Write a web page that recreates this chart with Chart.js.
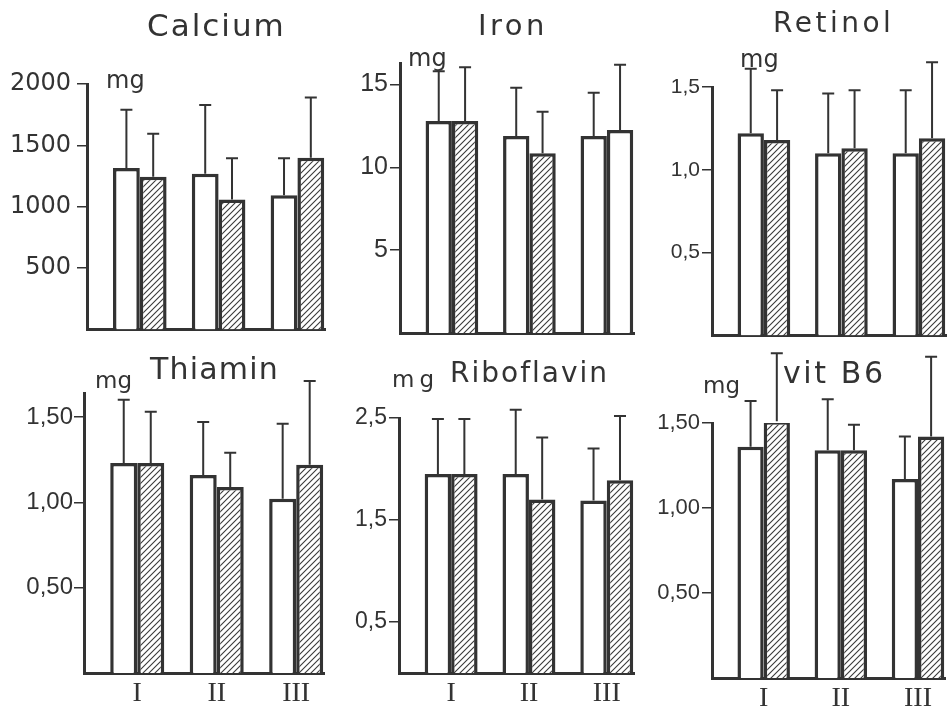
<!DOCTYPE html>
<html>
<head>
<meta charset="utf-8">
<script src="https://cdn.jsdelivr.net/npm/chart.js@4.4.1/dist/chart.umd.min.js"></script>
<style>
  html, body { margin: 0; padding: 0; background: #fff; }
  #page { position: relative; width: 948px; height: 715px; overflow: hidden; }
  #page canvas { position: absolute; }
  .lbl { position: absolute; font-family: 'DejaVu Sans', sans-serif; color: #333; line-height: 1; white-space: nowrap; z-index: 2; }
</style>
</head>
<body>
<div id="page">
  <div class="lbl" style="left:147px;top:10px;font-size:31px;letter-spacing:2px">Calcium</div>
  <div class="lbl" style="left:478px;top:11px;font-size:29px;letter-spacing:3.5px">Iron</div>
  <div class="lbl" style="left:773px;top:9px;font-size:28px;letter-spacing:3.5px">Retinol</div>
  <div class="lbl" style="left:150px;top:354px;font-size:30px;letter-spacing:1.2px">Thiamin</div>
  <div class="lbl" style="left:450px;top:359px;font-size:28px;letter-spacing:2px">Riboflavin</div>
  <div class="lbl" style="left:783px;top:358px;font-size:30px;letter-spacing:2.6px">vit B6</div>

  <div class="lbl" style="left:106px;top:68px;font-size:24px">mg</div>
  <div class="lbl" style="left:408px;top:46px;font-size:24px">mg</div>
  <div class="lbl" style="left:740px;top:47px;font-size:24px">mg</div>
  <div class="lbl" style="left:95px;top:369px;font-size:23px">mg</div>
  <div class="lbl" style="left:392px;top:368px;font-size:23px;letter-spacing:5px">mg</div>
  <div class="lbl" style="left:703px;top:374px;font-size:23px">mg</div>
</div>
<script>
const groups = ['I', 'II', 'III'];

// mean intake per group (open bars) and SD
const calciumOpen = [1315, 1270, 1095];
const calciumOpenSd = [475, 560, 300];
const calciumHatched = [1245, 1060, 1400];
const calciumHatchedSd = [350, 335, 490];
const calciumTicks = [500, 1000, 1500, 2000];
const calciumTickLabels = ['500', '1000', '1500', '2000'];

const ironOpen = [12.8, 11.9, 11.9];
const ironOpenSd = [3.0, 2.9, 2.6];
const ironHatched = [12.8, 10.85, 12.25];
const ironHatchedSd = [3.25, 2.5, 3.95];
const ironTicks = [5, 10, 15];
const ironTickLabels = ['5', '10', '15'];

const retinolOpen = [1.22, 1.10, 1.10];
const retinolOpenSd = [0.39, 0.36, 0.38];
const retinolHatched = [1.18, 1.13, 1.19];
const retinolHatchedSd = [0.30, 0.35, 0.46];
const retinolTicks = [0.5, 1.0, 1.5];
const retinolTickLabels = ['0,5', '1,0', '1,5'];

const thiaminOpen = [1.23, 1.16, 1.02];
const thiaminOpenSd = [0.37, 0.31, 0.44];
const thiaminHatched = [1.23, 1.09, 1.22];
const thiaminHatchedSd = [0.30, 0.20, 0.49];
const thiaminTicks = [0.5, 1.0, 1.5];
const thiaminTickLabels = ['0,50', '1,00', '1,50'];

const riboOpen = [1.95, 1.95, 1.69];
const riboOpenSd = [0.54, 0.63, 0.51];
const riboHatched = [1.95, 1.70, 1.89];
const riboHatchedSd = [0.54, 0.61, 0.63];
const riboTicks = [0.5, 1.5, 2.5];
const riboTickLabels = ['0,5', '1,5', '2,5'];

const b6Open = [1.36, 1.34, 1.17];
const b6OpenSd = [0.27, 0.30, 0.25];
const b6Hatched = [1.51, 1.34, 1.42];
const b6HatchedSd = [0.40, 0.15, 0.47];
const b6Ticks = [0.5, 1.0, 1.5];
const b6TickLabels = ['0,50', '1,00', '1,50'];

const INK = '#333';
const SANS = "'Liberation Sans', Arial, sans-serif";
const page = document.getElementById('page');

function makeHatch() {
  const c = document.createElement('canvas');
  c.width = c.height = 6;
  const g = c.getContext('2d');
  g.fillStyle = '#fff';
  g.fillRect(0, 0, 6, 6);
  g.strokeStyle = '#3a3a3a';
  g.lineWidth = 1.1;
  g.beginPath();
  g.moveTo(0, 6); g.lineTo(6, 0);
  g.moveTo(-1, 1); g.lineTo(1, -1);
  g.moveTo(5, 7); g.lineTo(7, 5);
  g.stroke();
  return g.createPattern(c, 'repeat');
}
const hatch = makeHatch();

// SD whiskers on top of every bar
const errorBars = {
  id: 'errorBars',
  afterDatasetsDraw(chart) {
    const ctx = chart.ctx;
    const y = chart.scales.y;
    ctx.save();
    ctx.strokeStyle = INK;
    ctx.lineWidth = 2;
    chart.data.datasets.forEach((ds, i) => {
      chart.getDatasetMeta(i).data.forEach((bar, j) => {
        const top = y.getPixelForValue(ds.data[j].y + ds.sd[j]);
        ctx.beginPath();
        ctx.moveTo(bar.x, bar.y);
        ctx.lineTo(bar.x, top);
        ctx.moveTo(bar.x - 6, top);
        ctx.lineTo(bar.x + 6, top);
        ctx.stroke();
      });
    });
    ctx.restore();
  }
};

const panels = [
  { box: [0, 0, 335, 350], axisX: 87, rightX: 325, topY: 84, baseY: 341, yMax: 2000,
    open: calciumOpen, openSd: calciumOpenSd, hatched: calciumHatched, hatchedSd: calciumHatchedSd,
    ticks: calciumTicks, tickLabels: calciumTickLabels, showGroups: false,
    tickFont: { family: "'DejaVu Sans', sans-serif", size: 24 }, tickPad: 6 },
  { box: [335, 0, 310, 350], axisX: 400, rightX: 634, topY: 63, baseY: 342, yMax: 16.3,
    open: ironOpen, openSd: ironOpenSd, hatched: ironHatched, hatchedSd: ironHatchedSd,
    ticks: ironTicks, tickLabels: ironTickLabels, showGroups: false,
    tickFont: { family: SANS, size: 25 }, tickPad: 2,
    hatchMask: [true, true, false] },
  { box: [645, 0, 303, 350], axisX: 712, rightX: 946, topY: 87, baseY: 342, yMax: 1.5,
    open: retinolOpen, openSd: retinolOpenSd, hatched: retinolHatched, hatchedSd: retinolHatchedSd,
    ticks: retinolTicks, tickLabels: retinolTickLabels, showGroups: false,
    tickFont: { family: SANS, size: 21 }, tickPad: 2 },
  { box: [0, 348, 335, 367], axisX: 84, rightX: 324, topY: 393, baseY: 673, yMax: 1.64,
    open: thiaminOpen, openSd: thiaminOpenSd, hatched: thiaminHatched, hatchedSd: thiaminHatchedSd,
    ticks: thiaminTicks, tickLabels: thiaminTickLabels, showGroups: true,
    tickFont: { family: SANS, size: 24 }, tickPad: 1 },
  { box: [335, 348, 310, 367], axisX: 399, rightX: 634, topY: 418, baseY: 673, yMax: 2.5,
    open: riboOpen, openSd: riboOpenSd, hatched: riboHatched, hatchedSd: riboHatchedSd,
    ticks: riboTicks, tickLabels: riboTickLabels, showGroups: true,
    tickFont: { family: SANS, size: 23 }, tickPad: 2 },
  { box: [645, 348, 303, 367], axisX: 712, rightX: 945, topY: 423, baseY: 678, yMax: 1.5,
    open: b6Open, openSd: b6OpenSd, hatched: b6Hatched, hatchedSd: b6HatchedSd,
    ticks: b6Ticks, tickLabels: b6TickLabels, showGroups: true,
    tickFont: { family: SANS, size: 22 }, tickPad: 2 }
];

const toPoints = vals => vals.map((v, i) => ({ x: i + 1, y: v }));

panels.forEach(p => {
  const [left, top, w, h] = p.box;
  const cv = document.createElement('canvas');
  cv.width = w;
  cv.height = h;
  cv.style.left = left + 'px';
  cv.style.top = top + 'px';
  page.appendChild(cv);

  const xH = p.showGroups ? 36 : 0;
  const mask = p.hatchMask || [true, true, true];

  new Chart(cv, {
    type: 'bar',
    data: {
      datasets: [
        { data: toPoints(p.open), sd: p.openSd, backgroundColor: '#fff' },
        { data: toPoints(p.hatched), sd: p.hatchedSd, backgroundColor: mask.map(m => m ? hatch : '#fff') }
      ]
    },
    options: {
      responsive: false,
      animation: false,
      events: [],
      layout: {
        padding: { left: 0, top: p.topY - top, right: left + w - p.rightX, bottom: top + h - p.baseY - xH }
      },
      datasets: {
        bar: { borderColor: INK, borderWidth: 3.5, categoryPercentage: 0.68, barPercentage: 1 }
      },
      plugins: { legend: { display: false }, tooltip: { enabled: false }, title: { display: false } },
      scales: {
        x: {
          type: 'linear', min: 0.33, max: 3.35, offset: false,
          grid: { display: false, drawTicks: false },
          border: { display: true, color: INK, width: 3 },
          ticks: {
            display: p.showGroups, stepSize: 1, includeBounds: false, padding: 4,
            color: INK, font: { family: "'Liberation Serif', serif", size: 28 },
            callback: v => groups[v - 1]
          },
          afterFit: s => { s.height = xH; }
        },
        y: {
          min: 0, max: p.yMax,
          afterBuildTicks: s => { s.ticks = p.ticks.map(v => ({ value: v })); },
          grid: { drawOnChartArea: false, tickLength: 10, color: INK, lineWidth: 1.5 },
          border: { display: true, color: INK, width: 3 },
          ticks: {
            padding: p.tickPad, color: INK, font: p.tickFont,
            callback: (v, i) => p.tickLabels[i]
          },
          afterFit: s => { s.width = p.axisX - left; }
        }
      }
    },
    plugins: [errorBars]
  });
});
</script>
</body>
</html>
